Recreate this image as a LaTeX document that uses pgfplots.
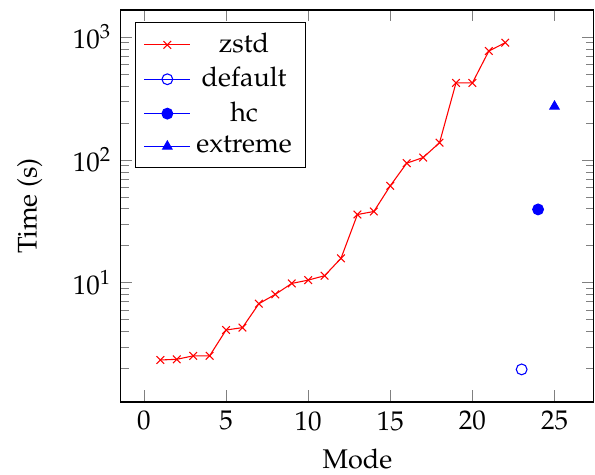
\documentclass[border=0pt]{standalone}
\usepackage[T1]{fontenc}
\usepackage{mathpazo}
\usepackage{pgfplots}
\pgfplotsset{compat=1.18}

\begin{document}
\begin{tikzpicture}
\begin{semilogyaxis}[
    scale only axis,
    width=175.2pt, height=145.2pt,
    xlabel={Mode},
    ylabel={Time (s)},
    ylabel shift=4.4pt,
    xmin=-1.4, xmax=27.4,
    ymin=1.07, ymax=1660,
    xtick={0,5,10,15,20,25},
    legend pos=north west,
    legend cell align=center,
]
\addplot[color=red, mark=x] % zstd
    coordinates {
    (1, 2.35)
    (2, 2.38)
    (3, 2.54)
    (4, 2.54)
    (5, 4.12)
    (6, 4.31)
    (7, 6.75)
    (8, 8.04)
    (9, 9.87)
    (10, 10.5)
    (11, 11.4)
    (12, 15.8)
    (13, 35.9)
    (14, 38.0)
    (15, 61.5)
    (16, 94.0)
    (17, 104.4)
    (18, 138)
    (19, 423)
    (20, 423)
    (21, 769)
    (22, 899)
    };
\addplot[color=blue, mark=o] % default
    coordinates { (23, 1.97) };
\addplot[color=blue, mark=*] % hc
    coordinates { (24, 39.5) };
\addplot[color=blue, mark=triangle*] % extreme
    coordinates { (25, 272) };
\legend{zstd, default, hc, extreme}
\end{semilogyaxis}
\pgfresetboundingbox
\path[use as bounding box]
    ([shift={(-44.8pt,-26.7pt)}]current axis.south west)
    rectangle ([shift={(0.4pt,3.7pt)}]current axis.north east);
\end{tikzpicture}
\end{document}
